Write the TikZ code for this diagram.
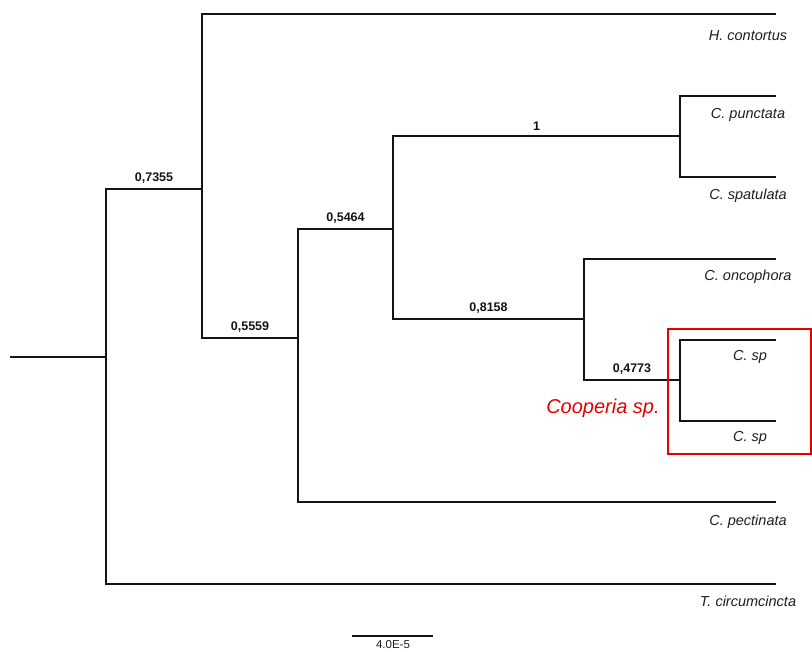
\documentclass[tikz,border=0pt]{standalone}
\usepackage{fontspec}
\setmainfont{Liberation Sans}
\usepackage{xcolor}
\usepackage{tikz}
\definecolor{branchblack}{RGB}{20,20,20}
\definecolor{boxred}{RGB}{230,0,0}
\definecolor{labelgray}{RGB}{30,30,30}

\tikzset{
    branch/.style={draw=branchblack, line width=2.6pt, line join=miter},
    supp/.style={above=1pt, font=\fontsize{12.5}{14}\selectfont\bfseries, text=branchblack},
    taxon/.style={font=\fontsize{14.5}{16}\selectfont\itshape, text=labelgray, anchor=center}
}

\begin{document}
\begin{tikzpicture}[x=1pt, y=-1pt]
\useasboundingbox (0,0) rectangle (812,652);

% internal nodes
\coordinate (root) at (10,357);
\coordinate (nA) at (106,357);
\coordinate (nB) at (202,189);
\coordinate (nC) at (298,338);
\coordinate (nD) at (393,229);
\coordinate (nE) at (680,136);
\coordinate (nF) at (584,319);
\coordinate (nG) at (680,380);

% leaf ends
\coordinate (lHc) at (776,14);
\coordinate (lCpu) at (776,96);
\coordinate (lCsa) at (776,177);
\coordinate (lCon) at (776,259);
\coordinate (lCs1) at (776,340);
\coordinate (lCs2) at (776,421);
\coordinate (lCpe) at (776,502);
\coordinate (lTc) at (776,584);

% branches
\draw[branch] (root) -- (nA);
\draw[branch] (nA) |- (nB) node[supp, pos=0.75] {0,7355};
\draw[branch] (nA) |- (lTc);
\draw[branch] (nB) |- (lHc);
\draw[branch] (nB) |- (nC) node[supp, pos=0.75] {0,5559};
\draw[branch] (nC) |- (nD) node[supp, pos=0.75] {0,5464};
\draw[branch] (nC) |- (lCpe);
\draw[branch] (nD) |- (nE) node[supp, pos=0.75] {1};
\draw[branch] (nD) |- (nF) node[supp, pos=0.75] {0,8158};
\draw[branch] (nE) |- (lCpu);
\draw[branch] (nE) |- (lCsa);
\draw[branch] (nF) |- (lCon);
\draw[branch] (nF) |- (nG) node[supp, pos=0.75] {0,4773};
\draw[branch] (nG) |- (lCs1);
\draw[branch] (nG) |- (lCs2);

% taxa
\node[taxon] (tHc) at (748,36) {H. contortus};
\node[taxon] (tCpu) at (748,115) {C. punctata};
\node[taxon] (tCsa) at (748,196) {C. spatulata};
\node[taxon] (tCon) at (748,277) {C. oncophora};
\node[taxon] (tCs1) at (750,357) {C. sp};
\node[taxon] (tCs2) at (750,438) {C. sp};
\node[taxon] (tCpe) at (748,522) {C. pectinata};
\node[taxon] (tTc) at (748,601) {T. circumcincta};

% highlighted group
\draw[boxred, line width=2pt] (668,329) rectangle (811,454);
\node[font=\fontsize{20}{22}\selectfont\itshape, text=boxred] (coop) at (603,408) {Cooperia sp.};

% scale bar
\coordinate (sbL) at (352,636);
\coordinate (sbR) at (433,636);
\draw[branch, line width=2pt] (sbL) -- (sbR);
\node[font=\fontsize{11.5}{12}\selectfont, text=labelgray, inner sep=1pt] (sblab) at (393,645) {4.0E-5};

\end{tikzpicture}
\end{document}
